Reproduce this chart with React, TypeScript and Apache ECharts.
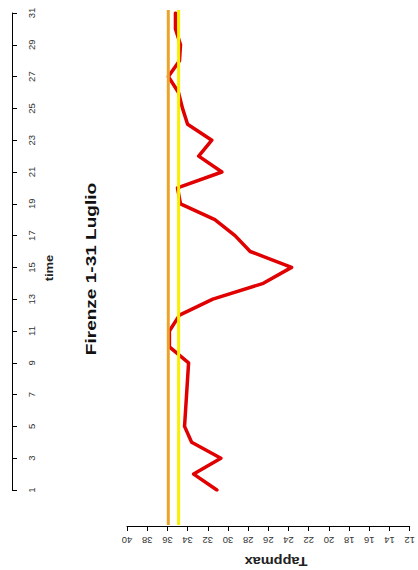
import React, { useEffect, useRef } from "react";
import * as echarts from "echarts";

// time axis categories (days of July)
const days = [
  "1", "2", "3", "4", "5", "6", "7", "8", "9", "10",
  "11", "12", "13", "14", "15", "16", "17", "18", "19", "20",
  "21", "22", "23", "24", "25", "26", "27", "28", "29", "30", "31",
];

// apparent max temperature per day
const tappmax = [
  31.1, 33.4, 30.7, 33.6, 34.3, 34.2, 34.1, 34.0, 33.9, 35.8,
  35.8, 34.8, 31.5, 26.5, 23.7, 27.8, 29.3, 31.3, 34.7, 35.0,
  30.6, 32.9, 31.6, 34.0, 34.5, 34.9, 35.9, 34.8, 34.7, 35.2, 35.2,
];

// reference levels (vertical lines)
const refLevels = [36, 35];
const refColors = ["#eca428", "#f8f000"];

// Tappmax axis range
const tMin = 12;
const tMax = 40;
const tStep = 2;

const FONT = "'Liberation Sans', Arial, sans-serif";

export default function App() {
  const ref = useRef<HTMLDivElement>(null);

  useEffect(() => {
    document.body.style.margin = "0";
    const chart = echarts.init(ref.current!, undefined, { renderer: "svg" });

    const option: any = {
      animation: false,
      backgroundColor: "#ffffff",
      textStyle: { fontFamily: FONT },
      grid: [
        { left: 127, right: 2, top: 13, bottom: 80 },
        { left: 127, right: 2, top: 10, bottom: 45 },
      ],
      xAxis: [
        {
          type: "value",
          gridIndex: 0,
          min: tMin,
          max: tMax,
          interval: tStep,
          inverse: true,
          position: "bottom",
          offset: 36,
          splitLine: { show: false },
          axisLine: { show: true, lineStyle: { color: "#000", width: 1 } },
          axisTick: { show: true, length: 5, lineStyle: { color: "#000" } },
          axisLabel: {
            rotate: 180,
            margin: 9,
            fontSize: 9.5,
            color: "#333",
            fontFamily: FONT,
            showMinLabel: true,
            showMaxLabel: true,
          },
        },
        {
          type: "value",
          gridIndex: 1,
          min: tMin,
          max: tMax,
          inverse: true,
          show: false,
          splitLine: { show: false },
        },
      ],
      yAxis: [
        {
          type: "category",
          gridIndex: 0,
          data: days,
          boundaryGap: false,
          position: "left",
          offset: 115,
          splitLine: { show: false },
          axisLine: { show: true, lineStyle: { color: "#000", width: 1 } },
          axisTick: {
            show: true,
            inside: true,
            length: 5,
            interval: 1,
            lineStyle: { color: "#000" },
          },
          axisLabel: {
            inside: true,
            interval: 1,
            rotate: 90,
            margin: 14,
            fontSize: 9.5,
            color: "#333",
            fontFamily: FONT,
          },
        },
        {
          type: "value",
          gridIndex: 1,
          min: 0,
          max: 1,
          show: false,
          splitLine: { show: false },
        },
      ],
      series: [
        {
          type: "line",
          name: "Tappmax",
          xAxisIndex: 0,
          yAxisIndex: 0,
          data: tappmax.map((v, i) => [v, days[i]]),
          showSymbol: false,
          symbol: "none",
          lineStyle: { color: "#e00000", width: 3.5, join: "round", cap: "round" },
          z: 2,
        },
        ...refLevels.map((lv, k) => ({
          type: "line",
          name: "ref" + lv,
          xAxisIndex: 1,
          yAxisIndex: 1,
          data: [
            [lv, 0],
            [lv, 1],
          ],
          showSymbol: false,
          symbol: "none",
          lineStyle: { color: refColors[k], width: 3 },
          z: 3,
        })),
      ],
      graphic: [
        {
          type: "text",
          x: 91,
          y: 269,
          rotation: Math.PI / 2,
          scaleX: 1.36,
          style: {
            text: "Firenze 1-31 Luglio",
            fontSize: 14,
            fontWeight: "bold",
            fontFamily: FONT,
            fill: "#111",
            align: "center",
            verticalAlign: "middle",
            textAlign: "center",
            textVerticalAlign: "middle",
          },
        },
        {
          type: "text",
          x: 50,
          y: 268,
          rotation: Math.PI / 2,
          scaleX: 1.3,
          style: {
            text: "time",
            fontSize: 10,
            fontWeight: "bold",
            fontFamily: FONT,
            fill: "#222",
            align: "center",
            verticalAlign: "middle",
            textAlign: "center",
            textVerticalAlign: "middle",
          },
        },
        {
          type: "text",
          x: 276,
          y: 561,
          rotation: Math.PI,
          scaleX: 1.12,
          style: {
            text: "Tappmax",
            fontSize: 13,
            fontWeight: "bold",
            fontFamily: FONT,
            fill: "#222",
            align: "center",
            verticalAlign: "middle",
            textAlign: "center",
            textVerticalAlign: "middle",
          },
        },
      ],
    };

    chart.setOption(option);
    return () => chart.dispose();
  }, []);

  return <div ref={ref} style={{ width: 418, height: 570 }} />;
}
